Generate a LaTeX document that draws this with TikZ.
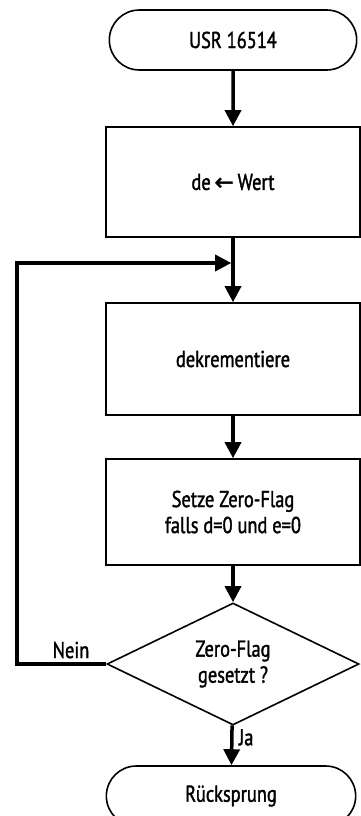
\documentclass[tikz,border=0pt]{standalone}
\usepackage{fontspec}
\setmainfont[FakeStretch=0.8, FakeBold=1.5]{PT Sans}
\newfontfamily\symfont[FakeBold=2]{DejaVu Sans}
\usetikzlibrary{arrows.meta,shapes.geometric,shapes.misc}

\begin{document}
\begin{tikzpicture}[x=1pt, y=1pt, every node/.style={font=\fontsize{23}{26}\selectfont},
  terminal/.style={draw, line width=1.6pt, rounded rectangle, minimum width=254pt, minimum height=60pt},
  process/.style={draw, line width=1.6pt, minimum width=254pt, align=center},
  decision/.style={draw, line width=1.6pt, diamond, minimum width=252pt, minimum height=108pt, inner sep=0pt, align=center},
  flow/.style={-{Triangle[width=16pt,length=16pt]}, line width=3.5pt}]
\useasboundingbox (0,0) rectangle (361,-816);

\node[terminal] (start) at (233,-40) {USR 16514};
\node[process, minimum height=110pt] (wert) at (233,-182) {de\,{\symfont ←}\,Wert};
\node[process, minimum height=112pt] (dekr) at (233,-359) {dekrementiere};
\node[process, minimum height=106pt] (flag) at (233,-512) {Setze Zero-Flag\\falls d=0 und e=0};
\node[decision] (test) at (233,-664) {Zero-Flag\\gesetzt ?};
\node[terminal, minimum width=256pt] (ende) at (231,-796) {Rücksprung};

\coordinate (join) at (233,-263);
\coordinate (back) at (17,-263);

\draw[flow] (start) -- (wert);
\draw[flow] (wert) -- (dekr);
\draw[flow] (dekr) -- (flag);
\draw[flow] (flag) -- (test);
\draw[flow] (test) -- (ende) node[pos=0.3, right=2pt] {Ja};
\draw[flow, shorten >=1.8pt] (test.west) -| (back) -- (join);
\node (nein) at (71,-650) {Nein};
\end{tikzpicture}
\end{document}
